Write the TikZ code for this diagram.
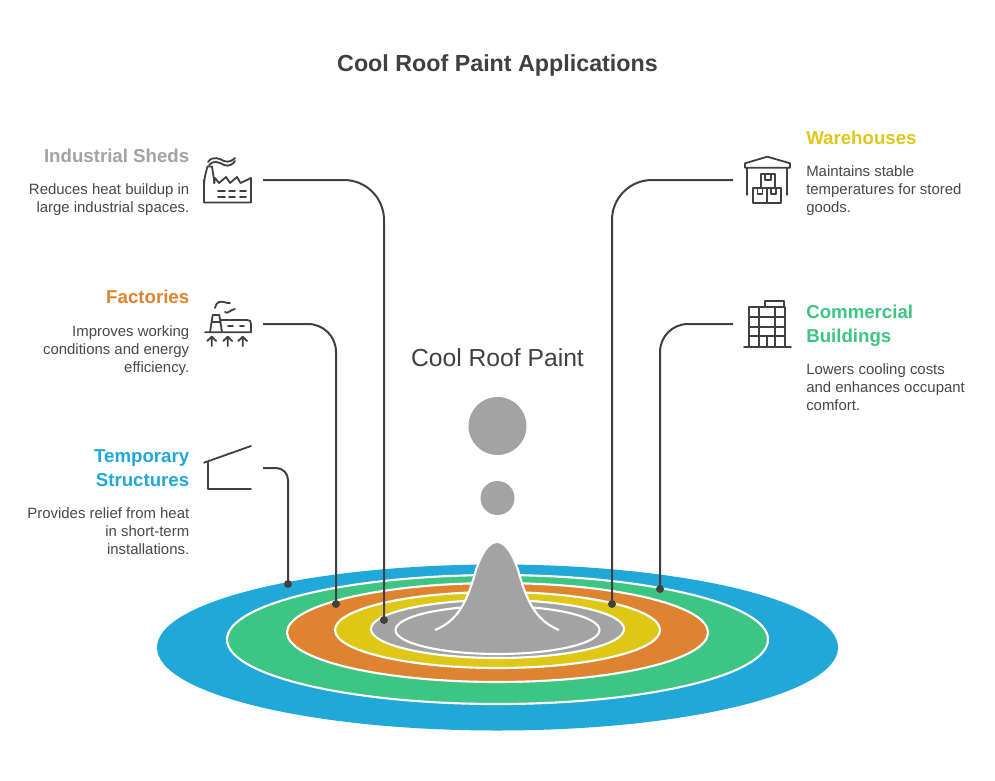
\documentclass[tikz,border=0pt]{standalone}
\usepackage{fontspec}
\setmainfont{Liberation Sans}
\definecolor{cblue}{HTML}{1FA8D8}
\definecolor{cgreen}{HTML}{3CC583}
\definecolor{corange}{HTML}{DE8431}
\definecolor{cyellow}{HTML}{DFC815}
\definecolor{cgray}{HTML}{A3A3A3}
\definecolor{ink}{HTML}{404040}
\definecolor{bodyink}{HTML}{484848}
\tikzset{
  ring/.style={draw=white,line width=1.6pt},
  conn/.style={draw=ink,line width=1.5pt},
  enddot/.style={circle,fill=ink,inner sep=0pt,minimum size=6pt},
  icon/.style={draw=ink,line width=1.35pt,line join=round,line cap=round,fill=none},
  headR/.style={anchor=north east,inner sep=0pt,align=right,font=\fontsize{14}{18}\selectfont\bfseries},
  headL/.style={anchor=north west,inner sep=0pt,align=left,font=\fontsize{14}{18}\selectfont\bfseries},
  bodyR/.style={anchor=north east,inner sep=0pt,align=right,text=bodyink,font=\fontsize{11.2}{13.5}\selectfont},
  bodyL/.style={anchor=north west,inner sep=0pt,align=left,text=bodyink,font=\fontsize{11.2}{13.5}\selectfont}
}
\begin{document}
\begin{tikzpicture}[x=0.75pt,y=-0.75pt]
\useasboundingbox (0,0) rectangle (995,781);
\fill[white] (0,0) rectangle (995,781);
% rings
\fill[cblue] (497.5,647.5) ellipse [x radius=340.5,y radius=83];
\path[fill=cgreen,ring] (497.5,639.5) ellipse [x radius=270.5,y radius=64.5];
\path[fill=corange,ring] (497.5,632.5) ellipse [x radius=210.5,y radius=49.5];
\path[fill=cyellow,ring] (497.5,630) ellipse [x radius=162.5,y radius=38];
\path[fill=cgray,ring] (497.5,629) ellipse [x radius=126.5,y radius=29];
\path[ring] (497.5,630) ellipse [x radius=102,y radius=24];
% bell
\path[fill=cgray,draw=white,line width=1.6pt]
  (435,630) .. controls (460,620) and (468,598) .. (476,570)
  .. controls (482,552) and (489,542) .. (497,542)
  .. controls (505,542) and (512,552) .. (518,570)
  .. controls (526,598) and (534,620) .. (559,630);
\fill[cgray] (497.5,426) circle [radius=29];
\fill[cgray] (497.5,498) circle [radius=17];
% texts
\node[anchor=center,text=ink,font=\fontsize{17.45}{22}\selectfont\bfseries] (title) at (497.5,65) {Cool Roof Paint Applications};
\node[anchor=center,text=ink,font=\fontsize{18.5}{22}\selectfont] (center) at (497.5,358) {Cool Roof Paint};
\node[headR,text=cgray] (h1) at (189.5,149) {Industrial Sheds};
\node[bodyR] (b1) at (189.5,183) {Reduces heat buildup in\\large industrial spaces.};
\node[headR,text=corange] (h2) at (189.5,290) {Factories};
\node[bodyR] (b2) at (189.5,325) {Improves working\\conditions and energy\\efficiency.};
\node[headR,text=cblue] (h3) at (189.5,449) {Temporary\\Structures};
\node[bodyR] (b3) at (189.5,507) {Provides relief from heat\\in short-term\\installations.};
\node[headL,text=cyellow] (h4) at (806,131) {Warehouses};
\node[bodyL] (b4) at (806,165) {Maintains stable\\temperatures for stored\\goods.};
\node[headL,text=cgreen] (h5) at (806,305) {Commercial\\Buildings};
\node[bodyL] (b5) at (806,363) {Lowers cooling costs\\and enhances occupant\\comfort.};
% connectors
\coordinate (s1) at (263,180);
\coordinate (s2) at (263,324);
\coordinate (s3) at (263,468);
\coordinate (s4) at (733,180);
\coordinate (s5) at (733,324);
\node[enddot] (d1) at (384,620) {};
\node[enddot] (d2) at (336,604) {};
\node[enddot] (d3) at (288,584) {};
\node[enddot] (d4) at (612,604) {};
\node[enddot] (d5) at (660,589) {};
\draw[conn,rounded corners=30pt] (s1) -| (d1.center);
\draw[conn,rounded corners=21pt] (s2) -| (d2.center);
\draw[conn,rounded corners=9pt] (s3) -| (d3.center);
\draw[conn,rounded corners=30pt] (s4) -| (d4.center);
\draw[conn,rounded corners=21pt] (s5) -| (d5.center);
% icon: industrial sheds
\draw[icon] (204,180) -- (204,202.5) -- (251,202.5) -- (251,178) -- (240.5,183) -- (237,177) -- (230,183) -- (226,177) -- (219,183) -- (215,178) -- (214,183);
\draw[icon] (204,187) .. controls (204,178) and (206,172) .. (207.5,166.5) -- (212,166.5) -- (214.5,183);
\draw[icon] (208,162) .. controls (213,155) and (220,159) .. (224,161) .. controls (229,163) and (233,160) .. (235,158);
\draw[icon] (209,165) .. controls (213,160) and (219,162) .. (224,165) .. controls (229,167) and (233,164) .. (235,161);
\foreach \yy in {191,197}{\foreach \xa/\xb in {218/225,229/235,240/246}{\draw[icon] (\xa,\yy) -- (\xb,\yy);}}
% icon: factories
\draw[icon] (205,332.3) -- (251,332.3) -- (251,324) .. controls (251,321) and (250,320) .. (247,320) -- (220,320);
\draw[icon] (210,332) -- (212.7,315) -- (219.3,315) -- (222,332);
\draw[icon] (212,322.3) -- (220.7,322.3);
\draw[icon] (228,325.7) -- (233,325.7) (240,325.7) -- (244,325.7);
\draw[icon] (215,308) .. controls (216,302) and (220,301) .. (224,302) .. controls (226,303) and (228,303) .. (230,303);
\draw[icon] (225,312) .. controls (227,314) and (230,311) .. (232,310) -- (235,309);
\foreach \xx in {211.7,227.7,242.7}{\draw[icon] (\xx,346) -- (\xx,336.7) (\xx-4.5,341) -- (\xx,336.7) -- (\xx+4.5,341);}
% icon: temporary structures
\draw[icon] (204,462.7) -- (251,446);
\draw[icon] (208.3,462.7) -- (208.3,489) -- (251,489);
% icon: warehouses
\draw[icon] (745,167.7) -- (745,163.3) -- (767.3,156.7) -- (790,163.3) -- (790,167.7) -- cycle;
\draw[icon] (747.3,167.7) -- (747.3,195) (787.3,167.7) -- (787.3,195);
\draw[icon] (760.7,188.3) -- (760.7,174.3) -- (775,174.3) -- (775,188.3);
\draw[icon] (753.3,188.3) rectangle (766.7,203.3);
\draw[icon] (766.7,188.3) rectangle (780.7,203.3);
\draw[icon] (765,174.3) -- (765,180) -- (771,180) -- (771,174.3);
\draw[icon] (757.5,188.3) -- (757.5,194) -- (762.5,194) -- (762.5,188.3);
\draw[icon] (771,188.3) -- (771,194) -- (776,194) -- (776,188.3);
% icon: commercial buildings
\draw[icon] (744,346.7) -- (791,346.7);
\draw[icon] (749.3,346.7) -- (749.3,307.3) -- (785,307.3) -- (785,346.7);
\draw[icon] (765,307.3) -- (765,301) -- (784,301) -- (784,307.3);
\draw[icon] (759.3,307.3) -- (759.3,346.7) (775,307.3) -- (775,346.7) (767.3,335.7) -- (767.3,346.7);
\draw[icon] (749.3,317.3) -- (785,317.3) (749.3,326.7) -- (785,326.7) (749.3,335.7) -- (785,335.7);
\end{tikzpicture}
\end{document}
